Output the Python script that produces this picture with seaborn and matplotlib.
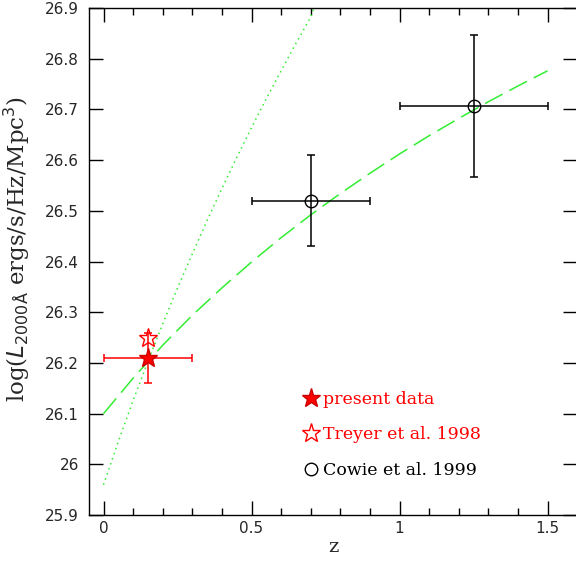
import numpy as np
import pandas as pd
import seaborn as sns
import matplotlib.pyplot as plt
from matplotlib.lines import Line2D

# curves
z_dash = [0.0, 0.1, 0.2, 0.3, 0.4, 0.5, 0.6, 0.7, 0.8, 0.9, 1.0, 1.1, 1.2, 1.3, 1.4, 1.5]
lum_dash = [26.100, 26.170, 26.235, 26.294, 26.348, 26.399, 26.447, 26.492,
            26.534, 26.574, 26.612, 26.648, 26.682, 26.715, 26.746, 26.776]
z_dot = [0.0, 0.05, 0.1, 0.15, 0.2, 0.25, 0.3, 0.35, 0.4, 0.45, 0.5, 0.55, 0.6, 0.65, 0.7, 0.72]
lum_dot = [25.960, 26.045, 26.126, 26.203, 26.277, 26.348, 26.415, 26.481,
           26.544, 26.605, 26.664, 26.721, 26.776, 26.830, 26.882, 26.915]

# data points
present_z = [0.15]
present_lum = [26.21]
present_zerr = [0.15]
present_lerr = [0.05]
treyer_z = [0.15]
treyer_lum = [26.25]
cowie_z = [0.7, 1.25]
cowie_lum = [26.52, 26.707]
cowie_zerr = [0.2, 0.25]
cowie_lerr = [0.09, 0.14]

sns.set_style("ticks")
plt.rcParams['font.family'] = ['DejaVu Sans']

fig = plt.figure(figsize=(5.76, 5.63), dpi=100)
ax = fig.add_axes([0.154, 0.085, 0.848, 0.901])

green = '#33ee33'
df_dash = pd.DataFrame({'z': z_dash, 'L': lum_dash})
df_dot = pd.DataFrame({'z': z_dot, 'L': lum_dot})
sns.lineplot(data=df_dash, x='z', y='L', ax=ax, color=green, lw=1.1,
             linestyle=(0, (13, 5)))
sns.lineplot(data=df_dot, x='z', y='L', ax=ax, color=green, lw=1.1,
             linestyle=(0, (1, 2.5)))

# error bars
ax.errorbar(present_z, present_lum, xerr=present_zerr, yerr=present_lerr,
            fmt='none', ecolor='red', elinewidth=1.1, capsize=3, capthick=1.1)
ax.errorbar(cowie_z, cowie_lum, xerr=cowie_zerr, yerr=cowie_lerr,
            fmt='none', ecolor='black', elinewidth=1.1, capsize=3, capthick=1.1)

# markers
ax.plot(present_z, present_lum, ls='none', marker='*', ms=14, mfc='red',
        mec='#cc0000', mew=1)
ax.plot(treyer_z, treyer_lum, ls='none', marker='*', ms=14, mfc='none',
        mec='red', mew=1)
ax.plot(cowie_z, cowie_lum, ls='none', marker='o', ms=9, mfc='none',
        mec='black', mew=1)

ax.set_xlim(-0.05, 1.6)
ax.set_ylim(25.9, 26.9)
ax.set_xticks([0, 0.5, 1, 1.5])
ax.set_xticklabels(['0', '0.5', '1', '1.5'])
ax.set_xticks(np.arange(0, 1.61, 0.1), minor=True)
ax.set_yticks(np.arange(25.9, 26.91, 0.1))
ax.set_yticklabels(['25.9', '26', '26.1', '26.2', '26.3', '26.4', '26.5',
                    '26.6', '26.7', '26.8', '26.9'])
ax.tick_params(which='both', direction='in', top=True, right=True,
               labelsize=11, color='black', width=1)
ax.tick_params(which='major', length=10)
ax.tick_params(axis='x', which='major', pad=4)
ax.tick_params(axis='y', which='major', pad=7)
ax.tick_params(which='minor', length=5)
for s in ax.spines.values():
    s.set_linewidth(1)
    s.set_color('black')

ax.set_xlabel('z', family='DejaVu Serif', fontsize=14, labelpad=2)
ax.set_ylabel(r'log($L_{2000\mathrm{\AA}}$ ergs/s/Hz/Mpc$^3$)',
              family='DejaVu Serif', fontsize=16.5)
ax.yaxis.set_label_coords(-0.116, 0.525)

handles = [
    Line2D([], [], ls='none', marker='*', ms=14, mfc='red', mec='#cc0000'),
    Line2D([], [], ls='none', marker='*', ms=14, mfc='none', mec='red'),
    Line2D([], [], ls='none', marker='o', ms=9, mfc='none', mec='black'),
]
labels = ['present data', 'Treyer et al. 1998', 'Cowie et al. 1999']
leg = ax.legend(handles, labels, loc='upper left', bbox_to_anchor=(0.43, 0.258),
                frameon=False, handlelength=0.6, handletextpad=0.4,
                labelspacing=1.05, prop={'family': 'DejaVu Serif', 'size': 12.5},
                borderaxespad=0)
for txt, col in zip(leg.get_texts(), ['red', 'red', 'black']):
    txt.set_color(col)

fig.savefig('out.png', dpi=100)
